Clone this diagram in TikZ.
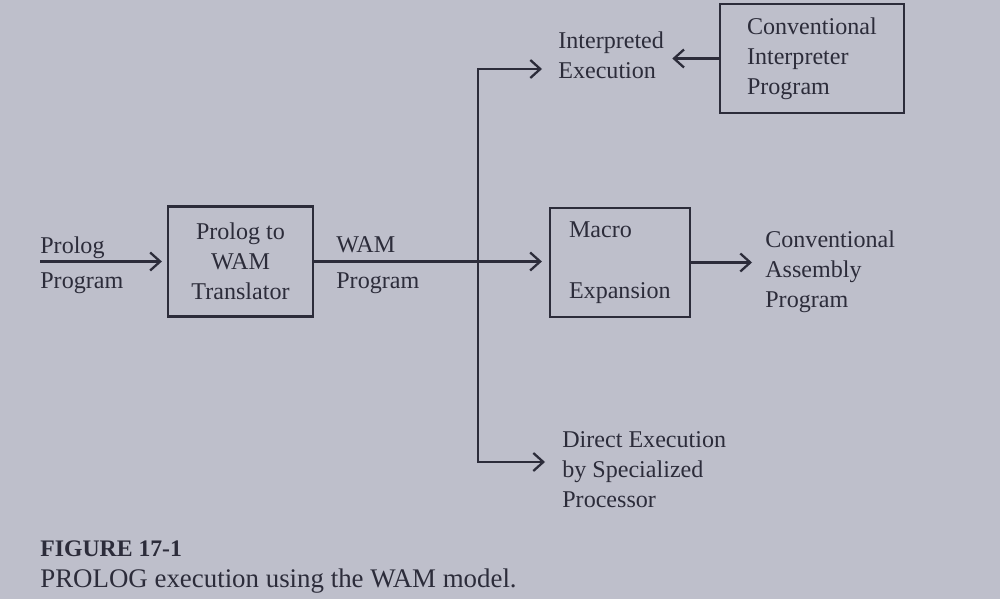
\documentclass[tikz,border=0pt]{standalone}
\usepackage{fontspec}
\setmainfont{Liberation Serif}
\usetikzlibrary{arrows.meta}
\definecolor{paper}{RGB}{190,191,203}
\definecolor{ink}{RGB}{44,44,58}

\begin{document}
\begin{tikzpicture}[x=0.02cm, y=-0.02cm,
  every node/.style={text=ink, font=\fontsize{13.7}{17}\selectfont},
  txt/.style={inner sep=0pt, align=left, anchor=base west},
  block/.style={draw=ink, line width=1.3pt, minimum height=2.2cm},
  wire/.style={draw=ink, line width=1.3pt},
  arr/.style={wire, -{Straight Barb[length=2mm,width=3.6mm]}}]
\useasboundingbox (0,0) rectangle (1000,599);
\fill[paper] (0,0) rectangle (1000,599);

% input and translator
\node[txt] (prolog) at (40,253) {Prolog};
\node[txt] (progin) at (40,288) {Program};
\node[block, minimum width=2.9cm, align=center] (trans) at (240.5,261.5) {Prolog to\\WAM\\Translator};
\node[txt] (wam) at (336,252) {WAM};
\node[txt] (progout) at (336,288) {Program};

% macro expansion
\node[block, minimum width=2.8cm, minimum height=2.18cm, text width=2.04cm, inner xsep=0.38cm, align=left] (macro) at (620,262.5) {Macro\\[0.62cm]Expansion};
\node[txt] (asm) at (765,307) {Conventional\\Assembly\\Program};

% interpreter
\node[txt] (interp) at (558,78) {Interpreted\\Execution};
\node[block, minimum width=3.68cm, minimum height=2.18cm, text width=2.6cm, inner xsep=0.54cm, align=left] (conv) at (812,58.5) {Conventional\\Interpreter\\Program};

% direct execution
\node[txt] (direct) at (562,507) {Direct Execution\\by Specialized\\Processor};

% caption
\node[txt, font=\fontsize{13.5}{16}\selectfont\bfseries] (fig) at (40,556) {FIGURE 17-1};
\node[txt, font=\fontsize{15.3}{18}\selectfont] (caption) at (40,587) {PROLOG execution using the WAM model.};

\coordinate (inL) at (40,261.5);
\coordinate (vtop) at (478,69);
\coordinate (vbot) at (478,462);

\path[arr, shorten >=0.1cm] (inL) -- (trans.west);
\path[arr, shorten >=0.14cm] (trans.east) -- (trans.east -| macro.west);
\path[arr, shorten >=0.26cm] (macro.east) -- (macro.east -| asm.west);
\path[wire, line cap=rect] (vtop) -- (vbot);
\path[arr, shorten >=0.32cm] (vtop) -- (vtop -| interp.west);
\path[arr, shorten >=0.34cm] (vbot) -- (vbot -| direct.west);
\path[arr, shorten >=0.16cm] (conv.west) -- (conv.west -| interp.east);
\end{tikzpicture}
\end{document}
